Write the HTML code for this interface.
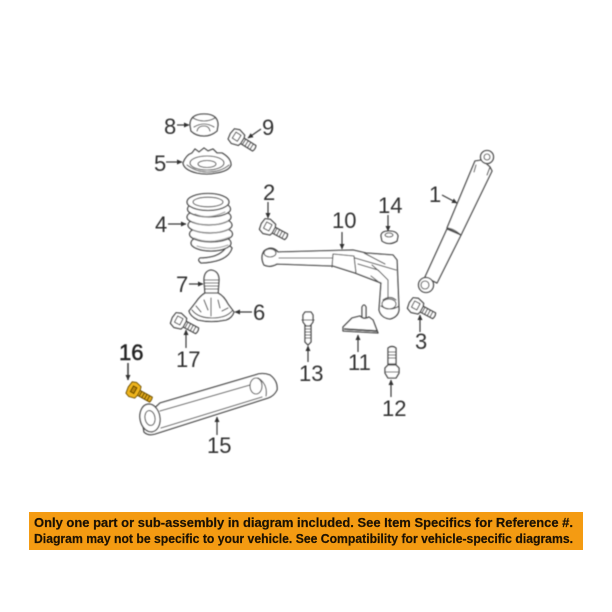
<!DOCTYPE html>
<html><head><meta charset="utf-8">
<style>
html,body{margin:0;padding:0;background:#fff}
svg{display:block}
.p{fill:#fff;stroke:#484848;stroke-width:1.35;stroke-linejoin:round;stroke-linecap:round}
.n{fill:none;stroke:#555;stroke-width:1.1;stroke-linecap:round;stroke-linejoin:round}
.l{fill:none;stroke:#999;stroke-width:1;stroke-linecap:round}
.a{stroke:#3a3a3a;stroke-width:1.2;fill:none;marker-end:url(#ah)}
text.t{font-family:"Liberation Sans",sans-serif;font-size:22px;fill:#333}
text.b{font-family:"Liberation Sans",sans-serif;font-size:12.6px;font-weight:bold;fill:#1c1204;stroke:#1c1204;stroke-width:.2}
</style></head><body>
<svg width="612" height="612" viewBox="0 0 612 612" xmlns="http://www.w3.org/2000/svg">
<defs>
<marker id="ah" markerWidth="6" markerHeight="6" refX="5" refY="2.5" orient="auto" markerUnits="userSpaceOnUse"><path d="M0,0L5.5,2.5L0,5Z" fill="#333"/></marker>
<filter id="s" x="-5%" y="-5%" width="110%" height="110%"><feGaussianBlur stdDeviation="0.45"/></filter>
<g id="bolt">
<path class="p" d="M9,-3.2L25,-3.2Q26.5,0 25,3.2L9,3.2Z"/>
<path class="n" d="M13,-3.2V3.2M16,-3.2V3.2M19,-3.2V3.2M22,-3.2V3.2"/>
<path class="p" d="M-2,-6L3,-8L10,-6L11,-3V3L10,6L3,8L-2,6L-3,0Z"/>
<path class="n" d="M1,-4L7,-4L7,3L1,3Z"/>
</g>
<g id="boltY">
<path d="M9,-2.8L24,-2.8Q25,0 24,2.8L9,2.8Z" fill="#e0a91a" stroke="#6b4c00" stroke-width="1"/>
<path d="M12,-2.8V2.8M15,-2.8V2.8M18,-2.8V2.8M21,-2.8V2.8" stroke="#5b3f00" stroke-width="1"/>
<path d="M-1,-6.5L3,-8L9,-6.5L10,-3V3L9,6.5L3,8L-1,6.5L-2,0Z" fill="#eeb41c" stroke="#6b4c00" stroke-width="1"/>
<path d="M2,-3.5L6,-3.5L6,3L2,3Z" fill="#b98507" stroke="#5b3f00" stroke-width="1"/>
</g>
</defs>
<rect width="612" height="612" fill="#fff"/>
<g filter="url(#s)">
<!-- 8 seat -->
<path class="p" d="M190,125Q190,114 204,114Q218,114 218,125L217,131Q211,136 204,136Q196,136 191,131Z"/>
<path class="n" d="M194,127Q204,121 214,127M197,131Q198,126 204,126Q209,126 210,131M193,118Q204,124 215,118"/>
<!-- 9 bolt -->
<use href="#bolt" transform="translate(233,135) rotate(32)"/>
<!-- 5 washer -->
<path class="p" d="M183,163Q186,155 192,153L195,149L199,152L204,148L208,151L213,149L217,153L222,153Q231,158 231,165Q229,171 216,173Q207,175 197,173Q184,170 183,163Z"/>
<ellipse class="n" cx="207" cy="163" rx="17" ry="7"/>
<ellipse class="n" cx="207" cy="164" rx="9" ry="3.5"/>
<path class="n" d="M187,165Q196,172 207,172Q221,172 229,165"/>
<!-- 4 coil -->
<path class="p" d="M200,258Q222,258 228,244L232,248Q228,262 201,263Q197,260 200,258Z"/>
<ellipse class="p" cx="211" cy="243" rx="20" ry="8"/>
<ellipse class="p" cx="211" cy="234" rx="21.5" ry="8"/>
<ellipse class="p" cx="210" cy="225" rx="22" ry="8"/>
<ellipse class="p" cx="209" cy="217" rx="22" ry="8"/>
<ellipse class="p" cx="209" cy="209" rx="21.5" ry="8"/>
<ellipse class="p" cx="208" cy="202" rx="21" ry="8.5"/>
<ellipse class="n" cx="208" cy="202" rx="15" ry="4.8"/>
<path class="l" d="M195,214Q208,220 225,212M193,222Q209,229 228,221M193,230Q210,237 229,229M194,238Q210,245 230,237M197,246Q212,251 228,245"/>
<!-- 2 bolt -->
<use href="#bolt" transform="translate(264,225) rotate(28)"/>
<!-- 7 bump stop -->
<path class="p" d="M204,280Q204,271 211,270Q219,271 219,280L218,294H205Z"/>
<path class="n" d="M205,280H218M205,283H218M205,286H218M205,289H218"/>
<!-- 6 mount -->
<path class="p" d="M205,293L218,293Q224,296 228,304L234,312Q232,318 226,320Q211,323 198,320Q190,316 189,311Q193,306 196,302Q200,296 205,293Z"/>
<path class="n" d="M192,310Q198,318 212,318Q226,318 232,311M211,298V316M204,300L208,310M218,300L220,308M196,306L201,312M222,311L228,308"/>
<!-- 17 bolt -->
<use href="#bolt" transform="translate(175,319) rotate(28)"/>
<!-- 16 bolt -->
<use href="#boltY" transform="translate(130,388) rotate(29)"/>
<!-- 15 control arm -->
<path class="p" d="M160,403L255,375Q262,372 270,375Q278,381 277,390Q274,396 268,398L155,434Q148,436 144,432L142,420Z"/>
<ellipse class="p" cx="150" cy="418" rx="10" ry="14" transform="rotate(-10 150 418)"/>
<ellipse class="n" cx="150" cy="418" rx="5" ry="7.5" transform="rotate(-10 150 418)"/>
<path class="n" d="M160,411L250,385M161,428L262,397M258,378Q268,384 266,396"/>
<ellipse class="n" cx="256" cy="386" rx="6" ry="8"/>
<!-- 10 arm -->
<path class="p" d="M278,252L353,250L366,253L393,255L397,260L399,310Q398,317 390,319Q381,318 379,310L381,283L355,273L333,266L277,264Q270,268 264,265Q260,257 264,251Q272,245 278,252Z"/>
<path class="n" d="M279,258L332,258M333,254L354,256L356,273M333,254L332,267M355,258L396,270M358,264L378,270L388,280V298M372,265L380,272M380,283L371,276M383,300Q390,295 396,300M381,306Q390,312 399,306M364,253L385,264"/>
<ellipse class="n" cx="389" cy="304" rx="7" ry="5"/>
<ellipse class="n" cx="270" cy="253" rx="6" ry="4"/>
<!-- 14 nut -->
<path class="p" d="M381,236Q381,231 389,231Q397,231 398,236L397,241Q389,246 382,241Z"/>
<ellipse class="n" cx="389" cy="235" rx="4" ry="2"/>
<!-- 1 shock -->
<path class="p" d="M447,229L425,277L437,283L461,235Z"/>
<path class="p" d="M475,161L447,228L461,235L492,171L490,167L482,160Z"/>
<path class="n" d="M447,228Q453,228 461,235M476,165L474,172M490,167L487,175"/>
<circle class="p" cx="487" cy="157" r="6.5"/>
<circle class="n" cx="487" cy="157" r="3"/>
<circle class="p" cx="426" cy="285" r="7.5"/>
<circle class="n" cx="425" cy="285" r="4"/>
<!-- 3 bolt -->
<use href="#bolt" transform="translate(412,304) rotate(28)"/>
<!-- 13 bolt -->
<path class="p" d="M305,325H311V342L308,345L305,342Z"/>
<path class="n" d="M305,329H311M305,332H311M305,335H311M305,338H311"/>
<path class="p" d="M303,315L305,312H311L313,315V322L310,326H306L303,322Z"/>
<path class="n" d="M302,320H314"/>
<!-- 11 bracket -->
<path class="p" d="M362,318V307Q364,303 366,307V318Z"/>
<path class="p" d="M352,318L360,316Q364,320 369,317L373,320L378,333L343,331L343,327Z"/>
<path d="M344,329L377,331" stroke="#444" stroke-width="1.8" fill="none"/>
<!-- 12 stud -->
<path class="p" d="M388,348Q392,345 396,348V364H388Z"/>
<path class="n" d="M388,352H396M388,355H396M388,358H396"/>
<path class="p" d="M385,368L388,365H396L399,368V373L396,378H388L385,373Z"/>
<path class="n" d="M386,372H398"/>
<!-- arrows -->
<path class="a" d="M177,125H189"/>
<path class="a" d="M261,129L248,138"/>
<path class="a" d="M166,162H182"/>
<path class="a" d="M168,224H186"/>
<path class="a" d="M268,202V218"/>
<path class="a" d="M189,284H203"/>
<path class="a" d="M252,312H235"/>
<path class="a" d="M186,348V330"/>
<path class="a" d="M128,363V380" style="stroke-width:1.5"/>
<path class="a" d="M217,435V417"/>
<path class="a" d="M442,195L457,203"/>
<path class="a" d="M388,215V231"/>
<path class="a" d="M342,232V249"/>
<path class="a" d="M420,332V315"/>
<path class="a" d="M308,362V346"/>
<path class="a" d="M358,352V335"/>
<path class="a" d="M391,397V380"/>
<!-- labels -->
<text class="t" x="164" y="134">8</text>
<text class="t" x="262" y="135">9</text>
<text class="t" x="154" y="171">5</text>
<text class="t" x="155" y="232">4</text>
<text class="t" x="263" y="200">2</text>
<text class="t" x="176" y="292">7</text>
<text class="t" x="429" y="202">1</text>
<text class="t" x="378" y="213">14</text>
<text class="t" x="332" y="228">10</text>
<text class="t" x="253" y="320">6</text>
<text class="t" x="415" y="349">3</text>
<text class="t" x="299" y="381">13</text>
<text class="t" x="348" y="370">11</text>
<text class="t" x="382" y="416">12</text>
<text class="t" x="176" y="367">17</text>
<text class="t" x="119" y="360" style="fill:#222;stroke:#222;stroke-width:.5">16</text>
<text class="t" x="207" y="453">15</text>
</g>
<!-- banner -->
<rect x="29" y="512" width="554" height="38" fill="#f49b12"/>
<text class="b" x="34" y="527" textLength="539" lengthAdjust="spacingAndGlyphs">Only one part or sub-assembly in diagram included. See Item Specifics for Reference #.</text>
<text class="b" x="34" y="543" textLength="539" lengthAdjust="spacingAndGlyphs">Diagram may not be specific to your vehicle. See Compatibility for vehicle-specific diagrams.</text>
</svg>
</body></html>
